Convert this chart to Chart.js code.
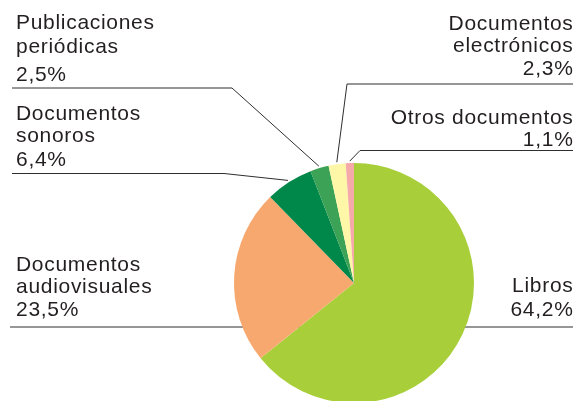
<!DOCTYPE html>
<html>
<head>
<meta charset="utf-8">
<script src="https://cdn.jsdelivr.net/npm/chart.js@4/dist/chart.umd.min.js"></script>
<style>
  html, body { margin: 0; padding: 0; background: #fff; }
  #wrap { width: 578px; height: 401px; position: relative; }
</style>
</head>
<body>
<div id="wrap"><canvas id="myChart" width="578" height="401"></canvas></div>
<script>
// data, clockwise from 12 o'clock
var categories = ['Libros', 'Documentos audiovisuales', 'Documentos sonoros',
                  'Publicaciones periódicas', 'Documentos electrónicos', 'Otros documentos'];
var labelLines = [['Libros'], ['Documentos', 'audiovisuales'], ['Documentos', 'sonoros'],
                  ['Publicaciones', 'periódicas'], ['Documentos', 'electrónicos'], ['Otros documentos']];
var shares = [64.2, 23.5, 6.4, 2.5, 2.3, 1.1];
var colors = ['#a8cf3a', '#f7a86f', '#00874a', '#3ca256', '#fff7a8', '#f5aaa9'];

// where each callout sits (text baselines, leader line)
var callouts = [
  { align: 'right', x: 573.5, lines: [292], valueY: 316, lineY: 327, end: 573, knee: null },
  { align: 'left', x: 16, lines: [271, 293], valueY: 316, lineY: 327, end: 10, knee: null },
  { align: 'left', x: 16, lines: [120, 142], valueY: 166, lineY: 173.5, end: 12, knee: 224 },
  { align: 'left', x: 16, lines: [29, 53], valueY: 81, lineY: 88, end: 12, knee: 232 },
  { align: 'right', x: 573.5, lines: [30, 52], valueY: 75, lineY: 84, end: 573, knee: 347 },
  { align: 'right', x: 573.5, lines: [124], valueY: 146, lineY: 150.5, end: 573, knee: 360 }
];

function fmt(v) { return v.toFixed(1).replace('.', ',') + '%'; }

var calloutPlugin = {
  id: 'callouts',
  beforeDatasetsDraw: function(chart) {
    var ctx = chart.ctx;
    var arcs = chart.getDatasetMeta(0).data;
    ctx.save();
    ctx.strokeStyle = '#2e2e2e';
    ctx.lineWidth = 1;
    callouts.forEach(function(c, i) {
      var arc = arcs[i];
      var p = arc.getProps(['x', 'y', 'startAngle', 'endAngle', 'outerRadius'], true);
      var mid = (p.startAngle + p.endAngle) / 2;
      ctx.beginPath();
      ctx.moveTo(c.end, c.lineY);
      if (c.knee === null) {
        ctx.lineTo(p.x, c.lineY);
      } else {
        var r = p.outerRadius + 2;
        ctx.lineTo(c.knee, c.lineY);
        ctx.lineTo(p.x + Math.cos(mid) * r, p.y + Math.sin(mid) * r);
      }
      ctx.stroke();

      ctx.fillStyle = '#231f20';
      ctx.font = '21px "Liberation Sans", Arial, sans-serif';
      if ('letterSpacing' in ctx) ctx.letterSpacing = '0.7px';
      ctx.textAlign = c.align;
      ctx.textBaseline = 'alphabetic';
      labelLines[i].forEach(function(t, k) {
        ctx.fillText(t, c.x, c.lines[k]);
      });
      ctx.fillText(fmt(shares[i]), c.x, c.valueY);
    });
    ctx.restore();
  }
};

var ctx = document.getElementById('myChart');
var myChart = new Chart(ctx, {
  type: 'pie',
  data: {
    labels: categories,
    datasets: [{
      data: shares,
      backgroundColor: colors,
      borderWidth: 0,
      radius: 120
    }]
  },
  options: {
    responsive: false,
    animation: false,
    layout: { padding: { left: 234, right: 104, top: 165, bottom: 0 } },
    plugins: { legend: { display: false }, tooltip: { enabled: false } }
  },
  plugins: [calloutPlugin]
});
</script>
</body>
</html>
